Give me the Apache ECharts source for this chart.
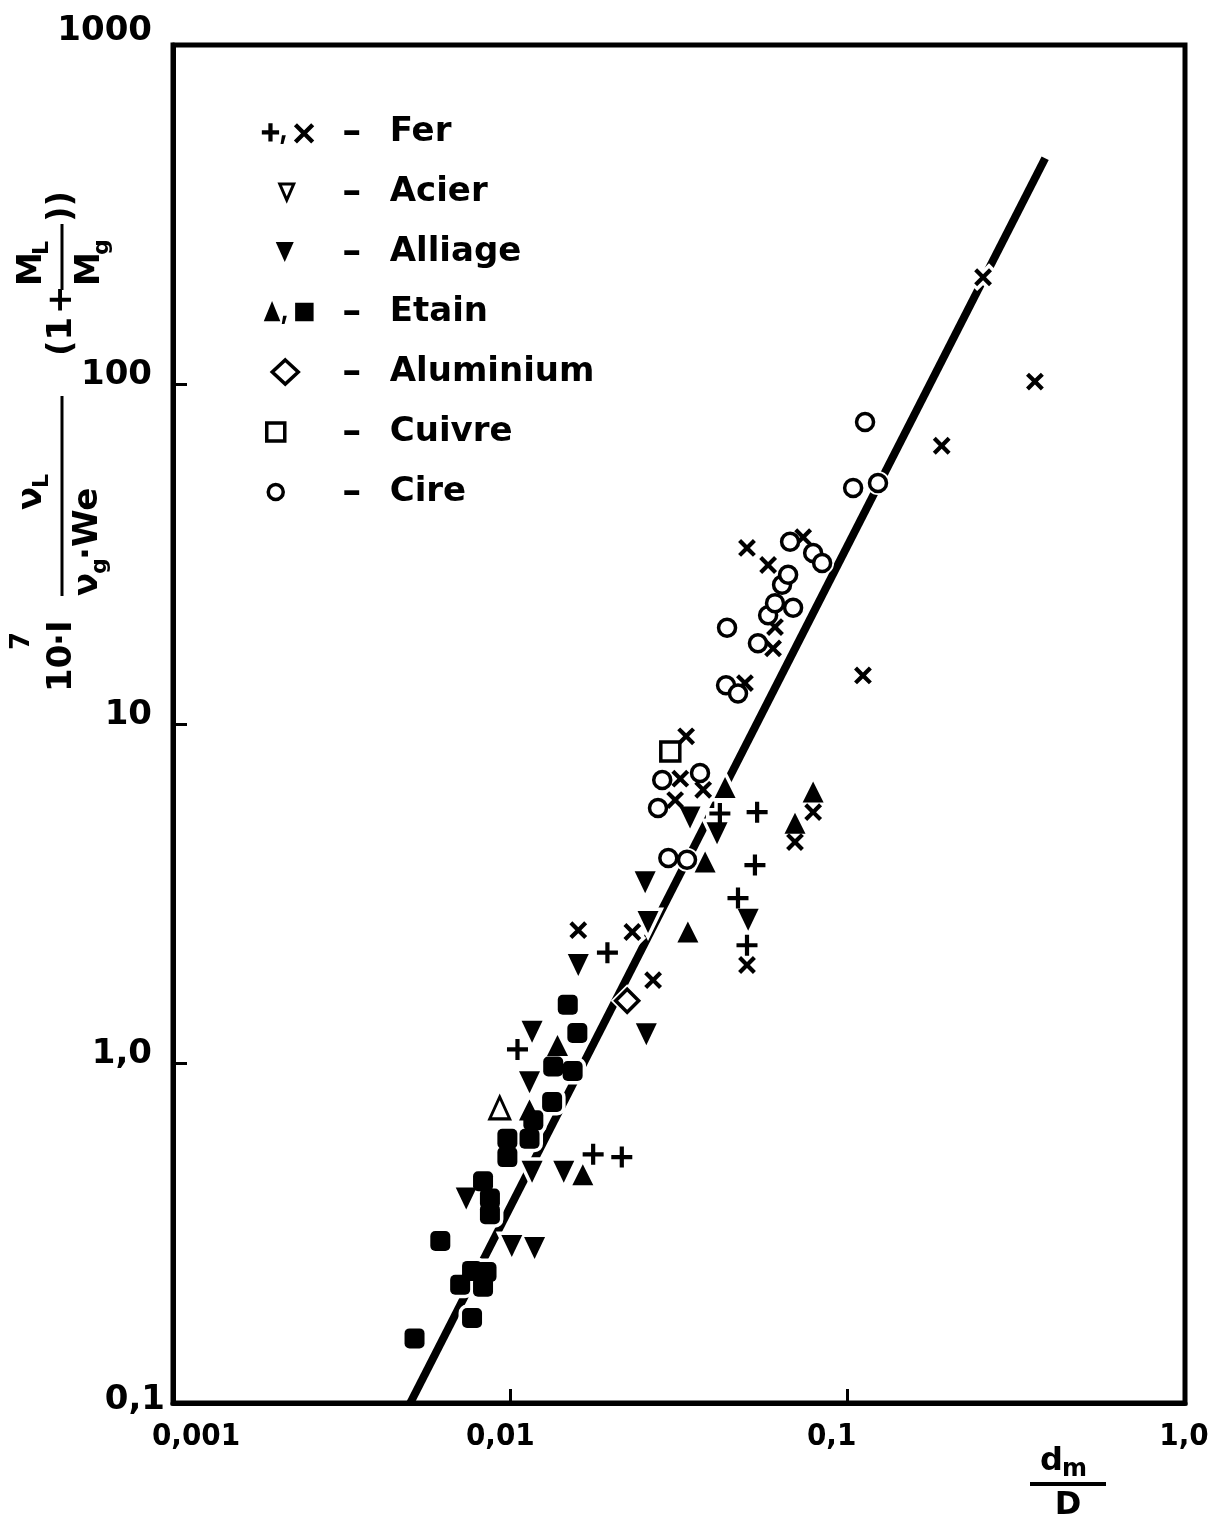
<!DOCTYPE html>
<html><head><meta charset="utf-8">
<script src="https://cdn.jsdelivr.net/npm/echarts@6/dist/echarts.min.js"></script>
<style>html,body{margin:0;padding:0;background:#fff}#c{width:1215px;height:1523px}</style>
</head><body><div id="c"></div>
<script>
// ---- axis ticks ----
const xTickValues = [0.001, 0.01, 0.1, 1];
const xTickLabels = ['0,001', '0,01', '0,1', '1,0'];
const yTickValues = [0.1, 1, 10, 100, 1000];
const yTickLabels = ['0,1', '1,0', '10', '100', '1000'];

// ---- data (dm/D , ordinate) ----
const ferPlus = [[0.0105,1.10],[0.0194,2.12],[0.0176,0.54],[0.0214,0.53],[0.0418,5.45],[0.0539,5.5],[0.0531,3.84],[0.0473,3.07],[0.0503,2.23]];
const ferCross = [[0.0159,2.47],[0.0230,2.44],[0.0265,1.76],[0.0332,9.2],[0.0319,6.9],[0.0373,6.4],[0.0308,5.97],[0.079,5.5],[0.0698,4.49],[0.0503,1.95],[0.0503,33],[0.0581,29.4],[0.0738,35.5],[0.0609,19.3],[0.0601,16.7],[0.0496,13.2],[0.252,207],[0.359,102],[0.19,66],[0.111,13.9]];
const acier = [[0.0093,0.74]];
const alliage = [[0.0341,5.3],[0.041,4.77],[0.0251,3.42],[0.0256,2.61],[0.0507,2.65],[0.0159,1.95],[0.0116,1.24],[0.0253,1.22],[0.0114,0.88],[0.0116,0.48],[0.0144,0.48],[0.0074,0.40],[0.0101,0.29],[0.0118,0.286]];
const etainTri = [[0.0433,6.5],[0.0378,3.92],[0.0336,2.44],[0.079,6.3],[0.0698,5.1],[0.0138,1.13],[0.0114,0.73],[0.0164,0.47]];
const etainSq = [[0.0148,1.49],[0.0158,1.23],[0.0134,0.98],[0.0153,0.95],[0.0133,0.77],[0.0117,0.68],[0.0098,0.60],[0.0114,0.60],[0.0098,0.53],[0.0083,0.45],[0.0087,0.40],[0.0087,0.36],[0.0062,0.30],[0.0077,0.245],[0.0085,0.243],[0.0071,0.223],[0.0083,0.22],[0.0077,0.178],[0.0052,0.155]];
const aluminium = [[0.0222,1.53]];
const cuivre = [[0.0298,8.3]];
const cire = [[0.0282,6.84],[0.0365,7.17],[0.0274,5.66],[0.0294,4.03],[0.0334,3.98],[0.0439,19.2],[0.0436,13.0],[0.0473,12.3],[0.0542,17.3],[0.0581,20.9],[0.0609,22.7],[0.0689,22],[0.0639,25.7],[0.0666,27.5],[0.0675,34.4],[0.079,31.9],[0.084,29.8],[0.1126,77.5],[0.1038,49.6],[0.123,51.3]];
const fitLineX = [0.00505, 0.385];
const fitLineY = [0.1, 464];

// ---- symbols (styling) ----
const PLUS = 'path://M4,0H6V4H10V6H6V10H4V6H0V4H4Z';
const BOX = 'M0,0M66,24'; // fixes the legend icon frame
const ICON_FER = 'path://' + BOX + 'M12.8,3.5H17.2V10.8H24V15.2H17.2V22.5H12.8V15.2H6V10.8H12.8Z M27,16H31L28.5,25H25.5Z M42.6,3.4L60.6,21.4L57.4,24.6L39.4,6.6Z M39.4,21.4L57.4,3.4L60.6,6.6L42.6,24.6Z';
const ICON_ACIER = 'path://' + BOX + 'M25,4L39,4L32,20Z';
const ICON_ALLIAGE = 'path://' + BOX + 'M21,2H39L30,22Z';
const ICON_ETAIN = 'path://' + BOX + 'M7,23L16,1L25,23Z M28,17H32L29.5,26H26.5Z M41,3H61V23H41Z';
const ICON_ALU = 'path://' + BOX + 'M30.5,0L43.5,12L30.5,24L17.5,12Z';
const ICON_CUIVRE = 'path://' + BOX + 'M12,3H30V21H12Z';
const ICON_CIRE = 'path://' + BOX + 'M13.5,12A7.5,7.5,0,1,1,28.5,12A7.5,7.5,0,1,1,13.5,12Z';

const FONT = '"DejaVu Sans", "Liberation Sans", sans-serif';
const COND = '"DejaVu Sans Condensed", "Liberation Sans Narrow", ' + FONT;
const BLACK = '#000';

function idx(values, v) {
  return values.findIndex(t => Math.abs(Math.log10(t) - Math.log10(v)) < 0.01);
}
// per-label nudges of the tick labels (styling only)
const xLabelPad = [[0, 0, 0, 46], [0, 20, 0, 0], [0, 32, 0, 0], [0, 2, 0, 0]];
const xRich = {};
xLabelPad.forEach((p, i) => { xRich['s' + i] = { padding: p, fontFamily: COND, fontWeight: 'bold', fontSize: 31, color: BLACK }; });
const yLabelPad = [[0, 0, 6, 0], [0, 13, 18, 0], [0, 13, 18, 0], [0, 13, 18, 0], [0, 13, 28, 0]];
const yRich = {};
yLabelPad.forEach((p, i) => { yRich['s' + i] = { padding: p, fontFamily: FONT, fontWeight: 'bold', fontSize: 34, color: BLACK }; });

const hollow = { color: '#fff', borderColor: BLACK, borderWidth: 3.5, opacity: 1 };
const solid = { color: BLACK, opacity: 1 };
const halo = { color: '#fff', borderColor: '#fff', borderWidth: 7, opacity: 1 };

function T(text, x, y, size, extra) {
  return { type: 'text', x: x, y: y, style: Object.assign({ text: text, fontFamily: FONT, fontWeight: 'bold', fontSize: size, fill: BLACK, verticalAlign: 'middle' }, extra || {}) };
}

// marker definitions: [legend name, data, symbol, size, rotate, style, z]
const markerSeries = [
  ['Fer', ferPlus, PLUS, 21, 0, solid, 4],
  ['Fer', ferCross, PLUS, 21, 45, solid, 4],
  ['Acier', acier.map(p => ({ value: p, symbolRotate: 0 })), 'triangle', [20, 22], 180, { color: '#fff', borderColor: BLACK, borderWidth: 3, opacity: 1 }, 5],
  ['Alliage', alliage, 'triangle', [21, 22], 180, solid, 4],
  ['Etain', etainTri, 'triangle', [21, 21], 0, solid, 4],
  ['Etain', etainSq, 'roundRect', 20, 0, solid, 4],
  ['Aluminium', aluminium, 'diamond', 23, 0, hollow, 5],
  ['Cuivre', cuivre, 'rect', 19, 0, hollow, 5],
  ['Cire', cire, 'circle', 17, 0, hollow, 5]
];

const series = [
  { name: 'fit', type: 'line', data: fitLineX.map((x, i) => [x, fitLineY[i]]), symbol: 'none',
    lineStyle: { color: BLACK, width: 8, opacity: 1 }, z: 2, silent: true }
];
markerSeries.forEach(m => {
  series.push({ name: 'halo', type: 'scatter', data: m[1], symbol: m[2], symbolSize: m[3], symbolRotate: m[4], itemStyle: halo, z: 3, silent: true });
});
markerSeries.forEach(m => {
  series.push({ name: m[0], type: 'scatter', data: m[1], symbol: m[2], symbolSize: m[3], symbolRotate: m[4], itemStyle: m[5], z: m[6] });
});

const option = {
  backgroundColor: '#fff',
  animation: false,
  grid: { left: 173, right: 30, top: 45, bottom: 120, show: true, borderColor: BLACK, borderWidth: 5, backgroundColor: 'transparent' },
  xAxis: {
    type: 'log', logBase: 10, min: 0.001, max: 1,
    axisLine: { lineStyle: { color: BLACK, width: 5 } },
    axisTick: { inside: true, length: 14, lineStyle: { color: BLACK, width: 3 } },
    minorTick: { show: false },
    splitLine: { show: false },
    axisLabel: { formatter: v => { const i = idx(xTickValues, v); return i < 0 ? '' : '{s' + i + '|' + xTickLabels[i] + '}'; },
      rich: xRich, color: BLACK, margin: 18, fontFamily: COND, fontWeight: 'bold', fontSize: 31 }
  },
  yAxis: {
    type: 'log', logBase: 10, min: 0.1, max: 1000,
    axisLine: { lineStyle: { color: BLACK, width: 5 } },
    axisTick: { inside: true, length: 14, lineStyle: { color: BLACK, width: 3 } },
    minorTick: { show: false },
    splitLine: { show: false },
    axisLabel: { formatter: v => { const i = idx(yTickValues, v); return i < 0 ? '' : '{s' + i + '|' + yTickLabels[i] + '}'; },
      rich: yRich, color: BLACK, margin: 8, verticalAlign: 'middle', fontFamily: FONT, fontWeight: 'bold', fontSize: 34 }
  },
  legend: {
    left: 248, top: 107, orient: 'vertical', selectedMode: false,
    itemWidth: 66, itemHeight: 24, itemGap: 20, symbolKeepAspect: true,
    textStyle: {
      color: BLACK, fontFamily: FONT, fontSize: 34, fontWeight: 'bold', lineHeight: 40,
      rich: {
        d: { width: 52, align: 'center', verticalAlign: 'bottom', lineHeight: 20, fontFamily: FONT, fontSize: 38, fontWeight: 'bold', color: BLACK },
        n: { padding: [0, 0, 0, 12], fontFamily: FONT, fontSize: 34, fontWeight: 'bold', color: BLACK, lineHeight: 40 }
      }
    },
    formatter: name => '{d|\u2013}{n|' + name + '}',
    data: [
      { name: 'Fer', icon: ICON_FER, itemStyle: { color: BLACK, borderWidth: 0, opacity: 1 } },
      { name: 'Acier', icon: ICON_ACIER, itemStyle: { color: '#fff', borderColor: BLACK, borderWidth: 3, opacity: 1 } },
      { name: 'Alliage', icon: ICON_ALLIAGE, itemStyle: { color: BLACK, borderWidth: 0, opacity: 1 } },
      { name: 'Etain', icon: ICON_ETAIN, itemStyle: { color: BLACK, borderWidth: 0, opacity: 1 } },
      { name: 'Aluminium', icon: ICON_ALU, itemStyle: { color: '#fff', borderColor: BLACK, borderWidth: 3.5, opacity: 1 } },
      { name: 'Cuivre', icon: ICON_CUIVRE, itemStyle: { color: '#fff', borderColor: BLACK, borderWidth: 3.5, opacity: 1 } },
      { name: 'Cire', icon: ICON_CIRE, itemStyle: { color: '#fff', borderColor: BLACK, borderWidth: 3.5, opacity: 1 } }
    ]
  },
  graphic: [
    {
      // y-axis title, reading bottom to top
      type: 'group', x: 0, y: 692, rotation: Math.PI / 2,
      children: [
        T('10', 0, 62, 34),
        T('7', 42, 22, 26),
        T('\u00b7I', 46, 62, 34),
        { type: 'line', shape: { x1: 96, y1: 62, x2: 296, y2: 62 }, style: { stroke: BLACK, lineWidth: 3 } },
        T('\u03bd', 182, 32, 34),
        T('L', 204, 42, 22),
        T('\u03bd', 96, 88, 34),
        T('g', 118, 100, 22),
        T('\u00b7We', 132, 88, 34),
        T('(1', 336, 62, 34),
        T('+', 378, 62, 34),
        { type: 'line', shape: { x1: 402, y1: 62, x2: 468, y2: 62 }, style: { stroke: BLACK, lineWidth: 3 } },
        T('M', 406, 32, 34),
        T('L', 437, 42, 22),
        T('M', 406, 90, 34),
        T('g', 437, 102, 22),
        T('))', 470, 62, 34)
      ]
    },
    {
      // x-axis title dm / D
      type: 'group', x: 0, y: 0,
      children: [
        T('d', 1040, 1462, 32),
        T('m', 1062, 1470, 24),
        { type: 'line', shape: { x1: 1030, y1: 1484, x2: 1106, y2: 1484 }, style: { stroke: BLACK, lineWidth: 4 } },
        T('D', 1068, 1506, 32, { align: 'center' })
      ]
    }
  ],
  series: series
};

const chart = echarts.init(document.getElementById('c'));
chart.setOption(option);
</script></body></html>
